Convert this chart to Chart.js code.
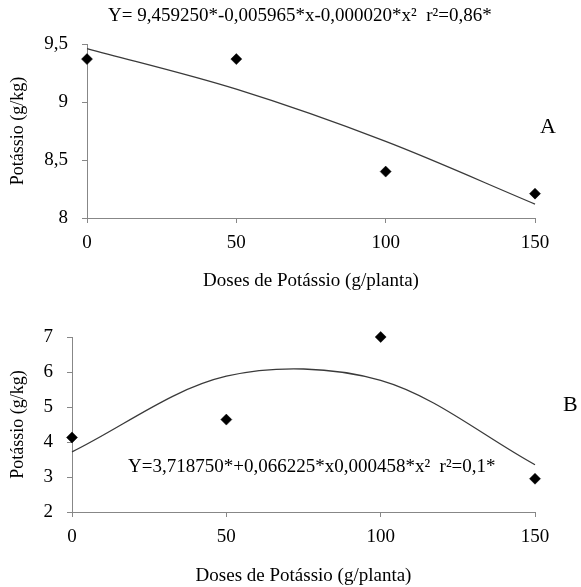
<!DOCTYPE html>
<html>
<head>
<meta charset="utf-8">
<script src="https://cdn.jsdelivr.net/npm/chart.js@4"></script>
<style>
  html, body { margin: 0; padding: 0; background: #fff; }
  #wrap { position: relative; width: 581px; height: 587px; }
  canvas { position: absolute; left: 0; }
  #cA { top: 0; }
  #cB { top: 300px; }
</style>
</head>
<body>
<div id="wrap">
  <canvas id="cA" width="581" height="300"></canvas>
  <canvas id="cB" width="581" height="287"></canvas>
</div>
<script>
// ---- data ----
const doses = [0, 50, 100, 150];
const xTicks = [0, 50, 100, 150];

// Chart A
const obsA = [9.37, 9.37, 8.40, 8.21];
const fitA = [9.46, 9.11, 8.66, 8.12];
const yTicksA = [8, 8.5, 9, 9.5];
const eqA = "Y= 9,459250*-0,005965*x-0,000020*x²  r²=0,86*";
const labelA = "A";

// Chart B
const obsB = [4.13, 4.64, 7.00, 2.95];
const fitB = [3.72, 5.88, 5.76, 3.35];
const yTicksB = [2, 3, 4, 5, 6, 7];
const eqB = "Y=3,718750*+0,066225*x0,000458*x²  r²=0,1*";
const labelB = "B";

const xTitle = "Doses de Potássio (g/planta)";
const yTitle = "Potássio (g/kg)";

// ---- styling ----
const FONT = "'Liberation Serif', 'Times New Roman', serif";
const AXIS = '#878787';

function textPlugin(items) {
  return {
    id: 'texts',
    afterDraw(chart) {
      const ctx = chart.ctx;
      ctx.save();
      ctx.fillStyle = '#000';
      ctx.textBaseline = 'middle';
      items.forEach(it => {
        ctx.font = it.size + 'px ' + FONT;
        ctx.textAlign = it.align;
        ctx.fillText(it.text, it.x, it.y);
      });
      ctx.restore();
    }
  };
}

function makeChart(id, obs, fit, yTicks, area, canvasH, xTitlePad, texts) {
  const yMin = yTicks[0], yMax = yTicks[yTicks.length - 1];
  return new Chart(document.getElementById(id), {
    type: 'scatter',
    data: {
      datasets: [
        {
          data: doses.map((x, i) => ({ x: x, y: fit[i] })),
          showLine: true,
          tension: 0.33,
          pointRadius: 0,
          borderColor: '#3a3a3a',
          borderWidth: 1.3,
          fill: false,
          clip: false
        },
        {
          data: doses.map((x, i) => ({ x: x, y: obs[i] })),
          showLine: false,
          pointStyle: 'rectRot',
          pointRadius: 5.5,
          backgroundColor: '#000',
          borderColor: '#000',
          borderWidth: 0.5,
          clip: false
        }
      ]
    },
    options: {
      responsive: false,
      animation: false,
      events: [],
      layout: { padding: { top: area.top, right: 581 - area.right, left: 0, bottom: 0 } },
      plugins: { legend: { display: false }, tooltip: { enabled: false } },
      scales: {
        x: {
          type: 'linear',
          min: 0, max: 150,
          afterBuildTicks(s) { s.ticks = xTicks.map(v => ({ value: v })); },
          ticks: { color: '#000', font: { family: FONT, size: 19 }, padding: 9, maxRotation: 0 },
          grid: { drawOnChartArea: false, tickLength: 5, color: AXIS },
          border: { color: AXIS, width: 1 },
          title: { display: true, text: xTitle, color: '#000', font: { family: FONT, size: 19 }, padding: { top: 0, bottom: xTitlePad } },
          afterFit(s) { s.height = canvasH - area.bottom; }
        },
        y: {
          type: 'linear',
          min: yMin, max: yMax,
          afterBuildTicks(s) { s.ticks = yTicks.map(v => ({ value: v })); },
          ticks: {
            color: '#000', font: { family: FONT, size: 19 }, padding: 14,
            callback: v => String(v).replace('.', ',')
          },
          grid: { drawOnChartArea: false, tickLength: 5, color: AXIS },
          border: { color: AXIS, width: 1 },
          title: { display: true, text: yTitle, color: '#000', font: { family: FONT, size: 18 }, padding: { top: 7, bottom: 0 } },
          afterFit(s) { s.width = area.left; }
        }
      }
    },
    plugins: [textPlugin(texts)]
  });
}

makeChart('cA', obsA, fitA, yTicksA, { left: 87, right: 535, top: 44, bottom: 218 }, 300, 8, [
  { text: eqA, x: 108, y: 16, size: 19, align: 'left' },
  { text: labelA, x: 548, y: 127, size: 22, align: 'center' }
]);

makeChart('cB', obsB, fitB, yTicksB, { left: 72, right: 535, top: 37, bottom: 212 }, 287, 0, [
  { text: eqB, x: 128, y: 167, size: 19, align: 'left' },
  { text: labelB, x: 563, y: 105, size: 22, align: 'left' }
]);
</script>
</body>
</html>
